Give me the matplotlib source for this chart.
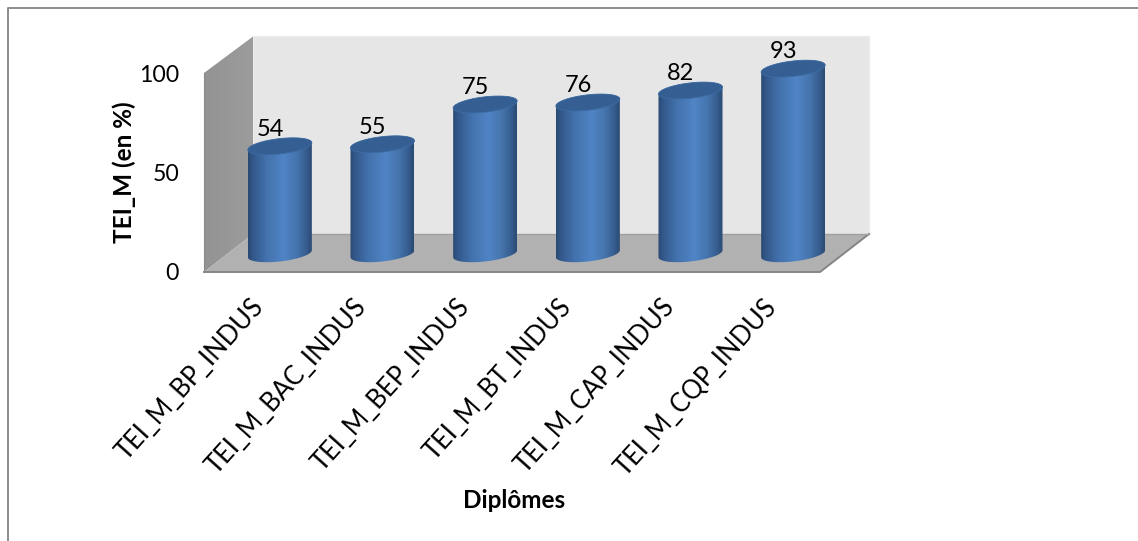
import numpy as np
import matplotlib
matplotlib.use("Agg")
import matplotlib.pyplot as plt
from matplotlib.colors import LinearSegmentedColormap
from matplotlib.patches import Polygon
from matplotlib.lines import Line2D
from matplotlib.transforms import ScaledTranslation

categories = ["TEI_M_BP_INDUS", "TEI_M_BAC_INDUS", "TEI_M_BEP_INDUS",
              "TEI_M_BT_INDUS", "TEI_M_CAP_INDUS", "TEI_M_CQP_INDUS"]
values = [54, 55, 75, 76, 82, 93]
y_ticks = [0, 50, 100]
y_label = "TEI_M (en %)"
x_label = "Diplômes"

plt.rcParams["font.family"] = ["Lato", "DejaVu Sans"]
W, H = 1138, 541
fig = plt.figure(figsize=(W / 100, H / 100), dpi=100, facecolor="white")

# front plane of the 3D box, in pixels
L, R, B, T = 204, 820, 272, 73
ax = fig.add_axes([L / W, 1 - B / H, (R - L) / W, (B - T) / H])
ax.patch.set_alpha(0)
for s in ax.spines.values():
    s.set_visible(False)

xlim = (-0.5, len(categories) - 0.5)
ylim = (0, 100)
px = (R - L) / (xlim[1] - xlim[0])   # px per category
py = (B - T) / (ylim[1] - ylim[0])   # px per unit
DX, DY = 49 / px, 36.5 / py          # depth at the top of the box
DF = 38 / py                         # depth at the floor
dx, dy = DX / 2, DY / 2              # bars stand mid-depth

x0, x1 = xlim
# walls and floor
ax.add_patch(Polygon([(x0 + DX, DF), (x1 + DX, DF), (x1 + DX, 100 + DY), (x0 + DX, 100 + DY)],
                     fc="#e6e6e6", ec="#ececec", lw=0.8, clip_on=False, zorder=1))
wall_cm = LinearSegmentedColormap.from_list("wall", ["#939393", "#9c9c9c"])
wall = ax.imshow(np.linspace(0, 1, 32).reshape(1, -1), extent=(x0, x0 + DX, 0, 100 + DY),
                 cmap=wall_cm, aspect="auto", zorder=1.1)
wall_path = Polygon([(x0, 0), (x0 + DX, DF), (x0 + DX, 100 + DY), (x0, 100)],
                    fc="none", ec="none", clip_on=False)
ax.add_patch(wall_path)
wall.set_clip_path(wall_path)
wall.set_clip_box(fig.bbox)
ax.add_patch(Polygon([(x0, 0), (x0 + DX, DF), (x1 + DX, DF), (x1, 0)],
                     fc="#b1b1b1", ec="none", clip_on=False, zorder=1.2))
ax.add_line(Line2D([x0, x1, x1 + DX], [0, 0, DF], color="#858585", lw=1.4, clip_on=False, zorder=1.3))
ax.add_line(Line2D([x0 + DX, x1 + DX], [DF, DF], color="#a0a0a0", lw=1.0, clip_on=False, zorder=1.3))
ax.add_line(Line2D([x0, x0], [0, 100], color="#8a8a8a", lw=0.8, clip_on=False, zorder=1.3))

# cylinders
side_cm = LinearSegmentedColormap.from_list(
    "side", [(0, "#2a4a72"), (0.08, "#33598c"), (0.30, "#4473ae"), (0.56, "#4f84c6"),
             (0.76, "#4675ad"), (0.92, "#355c8e"), (1, "#2a4a72")])
a, b, s = 32 / px, 7.7 / py, 3.5 / py
t = np.linspace(0, 2 * np.pi, 121)
for i, v in enumerate(values):
    cx = i + dx
    y0, y1 = dy, v + dy
    tb = np.linspace(np.pi, 2 * np.pi, 61)
    xb = cx + a * np.cos(tb)
    yb = y0 + b * np.sin(tb) + s * np.cos(tb)
    tt = np.linspace(0, np.pi, 61)
    xt = cx + a * np.cos(tt)
    yt = y1 + b * np.sin(tt) + s * np.cos(tt)
    verts = np.column_stack([np.r_[xb, xt], np.r_[yb, yt]])
    body = Polygon(verts, fc="none", ec="none", clip_on=False, zorder=2 + i)
    ax.add_patch(body)
    im = ax.imshow(np.linspace(0, 1, 128).reshape(1, -1),
                   extent=(cx - a, cx + a, y0 - 3 * b, y1 + 3 * b),
                   cmap=side_cm, aspect="auto", zorder=2 + i)
    im.set_clip_path(body)
    im.set_clip_box(fig.bbox)
    cap = np.column_stack([cx + a * np.cos(t), y1 + b * np.sin(t) + s * np.cos(t)])
    ax.add_patch(Polygon(cap, fc="#355f92", ec="#3d6ca3", lw=0.6, clip_on=False, zorder=2.5 + i))
    ax.annotate(str(v), (cx, y1 + b), xytext=(-7, -1), textcoords="offset points",
                ha="center", va="bottom", fontsize=17, color="black",
                zorder=10, annotation_clip=False)

ax.set_xlim(xlim)
ax.set_ylim(ylim)
ax.set_yticks(y_ticks)
ax.set_yticklabels([str(v) for v in y_ticks], fontsize=16.6)
ax.set_xticks(range(len(categories)))
ax.set_xticklabels(categories, rotation=48, ha="right", rotation_mode="anchor", fontsize=18.4)
ax.tick_params(axis="y", length=0, pad=18)
ax.tick_params(axis="x", length=0, pad=16)
shift = ScaledTranslation(-5 / 100, 0, fig.dpi_scale_trans)
for lab in ax.get_xticklabels():
    lab.set_transform(lab.get_transform() + shift)
ax.set_ylabel(y_label, fontsize=17.5, fontweight="bold", labelpad=2)
fig.text(514 / W, 1 - 500 / H, x_label, fontsize=17.5, fontweight="bold", ha="center", va="center")

# outer frame
fig.add_artist(Line2D([7.5 / W, 7.5 / W, 1], [0, 1 - 7.5 / H, 1 - 7.5 / H],
                      color="#8c8c8c", lw=1.4))
fig.savefig("out.png", dpi=100)
